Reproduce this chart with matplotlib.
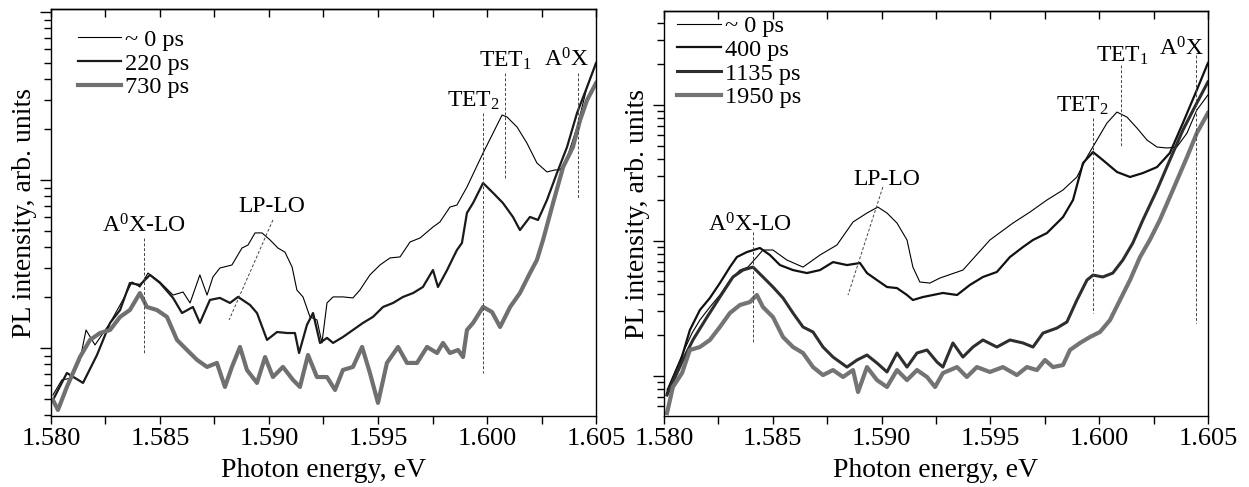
import numpy as np
import matplotlib
matplotlib.use('Agg')
import matplotlib.pyplot as plt
from matplotlib.ticker import MultipleLocator, FormatStrFormatter, LogLocator, NullFormatter

# Time-resolved PL spectra, intensity stored as log10(arb. units)

# ---- left panel ----
e_l0 = [1.58009, 1.58050, 1.58096, 1.58133, 1.58161, 1.58202, 1.58271, 1.58330, 1.58372, 1.58408,
        1.58445, 1.58500, 1.58560, 1.58606, 1.58638, 1.58683, 1.58716, 1.58743, 1.58775, 1.58830,
        1.58876, 1.58904, 1.58936, 1.58968, 1.59005, 1.59041, 1.59073, 1.59106, 1.59128, 1.59156,
        1.59188, 1.59220, 1.59243, 1.59266, 1.59294, 1.59339, 1.59385, 1.59417, 1.59463, 1.59509,
        1.59555, 1.59601, 1.59647, 1.59693, 1.59752, 1.59784, 1.59830, 1.59862, 1.59908, 1.59982,
        1.60028, 1.60069, 1.60092, 1.60138, 1.60183, 1.60229, 1.60275, 1.60312, 1.60335, 1.60367,
        1.60413, 1.60459, 1.60500]
pl_l0 = [-0.280, -0.190, -0.179, -0.071, 0.107, 0.018, 0.149, 0.286, 0.393, 0.363,
         0.446, 0.393, 0.315, 0.333, 0.268, 0.435, 0.315, 0.423, 0.476, 0.494,
         0.595, 0.613, 0.685, 0.685, 0.643, 0.595, 0.571, 0.482, 0.345, 0.304,
         0.185, 0.167, 0.030, 0.268, 0.304, 0.304, 0.298, 0.345, 0.435, 0.494,
         0.536, 0.542, 0.631, 0.655, 0.720, 0.750, 0.839, 0.851, 0.958, 1.161,
         1.280, 1.387, 1.375, 1.315, 1.220, 1.101, 1.048, 1.060, 1.060, 1.131,
         1.315, 1.554, 1.696]

e_l220 = [1.58009, 1.58073, 1.58147, 1.58211, 1.58271, 1.58317, 1.58362, 1.58408, 1.58454, 1.58500,
          1.58560, 1.58601, 1.58651, 1.58683, 1.58729, 1.58775, 1.58821, 1.58858, 1.58913, 1.58945,
          1.58991, 1.59037, 1.59083, 1.59119, 1.59138, 1.59174, 1.59202, 1.59234, 1.59266, 1.59294,
          1.59339, 1.59385, 1.59431, 1.59477, 1.59523, 1.59569, 1.59615, 1.59661, 1.59706, 1.59752,
          1.59775, 1.59817, 1.59844, 1.59862, 1.59885, 1.59908, 1.59936, 1.59982, 1.60028, 1.60073,
          1.60119, 1.60151, 1.60197, 1.60234, 1.60275, 1.60321, 1.60367, 1.60413, 1.60459, 1.60500]
pl_l220 = [-0.310, -0.149, -0.208, -0.042, 0.149, 0.226, 0.387, 0.375, 0.435, 0.387,
           0.298, 0.208, 0.244, 0.149, 0.286, 0.298, 0.268, 0.304, 0.256, 0.208,
           0.048, 0.095, 0.089, 0.089, -0.030, 0.137, 0.208, 0.030, 0.060, 0.030,
           0.065, 0.107, 0.149, 0.185, 0.244, 0.268, 0.304, 0.327, 0.363, 0.464,
           0.363, 0.464, 0.536, 0.583, 0.625, 0.804, 0.863, 0.982, 0.923, 0.863,
           0.780, 0.702, 0.780, 0.762, 0.881, 1.042, 1.196, 1.399, 1.554, 1.696]

e_l730 = [1.58009, 1.58032, 1.58073, 1.58133, 1.58179, 1.58225, 1.58271, 1.58317, 1.58362, 1.58408,
          1.58440, 1.58486, 1.58532, 1.58578, 1.58624, 1.58670, 1.58716, 1.58761, 1.58798, 1.58830,
          1.58867, 1.58899, 1.58945, 1.58982, 1.59018, 1.59064, 1.59110, 1.59142, 1.59179, 1.59220,
          1.59266, 1.59303, 1.59339, 1.59385, 1.59427, 1.59463, 1.59500, 1.59541, 1.59592, 1.59633,
          1.59679, 1.59725, 1.59771, 1.59798, 1.59830, 1.59867, 1.59890, 1.59908, 1.59936, 1.59982,
          1.60023, 1.60060, 1.60106, 1.60151, 1.60197, 1.60229, 1.60257, 1.60303, 1.60349, 1.60394,
          1.60427, 1.60459, 1.60500]
pl_l730 = [-0.310, -0.369, -0.232, -0.054, 0.048, 0.089, 0.107, 0.185, 0.226, 0.327,
           0.244, 0.226, 0.185, 0.048, -0.012, -0.071, -0.113, -0.089, -0.232, -0.113,
           0.006, -0.131, -0.208, -0.054, -0.173, -0.113, -0.190, -0.232, -0.042, -0.173,
           -0.173, -0.250, -0.131, -0.113, 0.006, -0.149, -0.327, -0.089, 0.006, -0.089,
           -0.089, 0.006, -0.030, 0.030, -0.030, -0.012, -0.054, 0.107, 0.149, 0.244,
           0.214, 0.125, 0.244, 0.327, 0.446, 0.524, 0.643, 0.863, 1.077, 1.196,
           1.357, 1.476, 1.577]

# ---- right panel ----
e_r0 = [1.58014, 1.58087, 1.58129, 1.58165, 1.58211, 1.58257, 1.58303, 1.58349, 1.58386, 1.58455,
        1.58501, 1.58565, 1.58639, 1.58717, 1.58795, 1.58869, 1.58933, 1.58983, 1.59025, 1.59071,
        1.59117, 1.59144, 1.59176, 1.59222, 1.59268, 1.59374, 1.59498, 1.59604, 1.59682, 1.59760,
        1.59834, 1.59898, 1.59944, 1.59990, 1.60036, 1.60082, 1.60128, 1.60174, 1.60220, 1.60266,
        1.60312, 1.60357, 1.60404, 1.60449, 1.60500]
pl_r0 = [-0.103, 0.170, 0.317, 0.413, 0.509, 0.598, 0.708, 0.782, 0.804, 0.930,
         0.930, 0.856, 0.804, 0.893, 0.967, 1.137, 1.203, 1.247, 1.203, 1.129,
         1.004, 0.804, 0.694, 0.686, 0.723, 0.782, 1.004, 1.129, 1.210, 1.299,
         1.373, 1.469, 1.616, 1.742, 1.867, 1.948, 1.911, 1.830, 1.742, 1.690,
         1.683, 1.690, 1.793, 1.963, 2.074]

e_r400 = [1.58014, 1.58074, 1.58119, 1.58165, 1.58211, 1.58257, 1.58303, 1.58335, 1.58381, 1.58441,
          1.58487, 1.58533, 1.58593, 1.58657, 1.58717, 1.58777, 1.58841, 1.58901, 1.58933, 1.58979,
          1.59025, 1.59071, 1.59117, 1.59144, 1.59190, 1.59236, 1.59282, 1.59347, 1.59406, 1.59466,
          1.59530, 1.59590, 1.59650, 1.59696, 1.59760, 1.59834, 1.59880, 1.59926, 1.59972, 1.60017,
          1.60082, 1.60142, 1.60201, 1.60266, 1.60325, 1.60385, 1.60449, 1.60500]
pl_r400 = [-0.125, 0.096, 0.339, 0.487, 0.576, 0.686, 0.804, 0.878, 0.915, 0.945,
           0.893, 0.819, 0.782, 0.760, 0.782, 0.841, 0.819, 0.834, 0.760, 0.708,
           0.657, 0.649, 0.598, 0.561, 0.583, 0.598, 0.613, 0.598, 0.672, 0.731,
           0.768, 0.878, 0.952, 1.004, 1.055, 1.173, 1.299, 1.572, 1.653, 1.594,
           1.506, 1.469, 1.498, 1.542, 1.646, 1.867, 2.111, 2.310]

e_r1135 = [1.58014, 1.58087, 1.58133, 1.58198, 1.58257, 1.58317, 1.58363, 1.58409, 1.58455, 1.58501,
           1.58547, 1.58593, 1.58639, 1.58685, 1.58731, 1.58777, 1.58841, 1.58887, 1.58933, 1.58979,
           1.59025, 1.59071, 1.59117, 1.59163, 1.59209, 1.59255, 1.59282, 1.59328, 1.59374, 1.59420,
           1.59466, 1.59530, 1.59590, 1.59650, 1.59696, 1.59742, 1.59806, 1.59852, 1.59898, 1.59944,
           1.59972, 1.60017, 1.60063, 1.60109, 1.60155, 1.60201, 1.60266, 1.60325, 1.60385, 1.60449,
           1.60500]
pl_r1135 = [-0.140, 0.118, 0.266, 0.435, 0.583, 0.731, 0.782, 0.804, 0.731, 0.657,
            0.576, 0.465, 0.362, 0.325, 0.214, 0.140, 0.066, 0.118, 0.155, 0.096,
            0.030, 0.170, 0.066, 0.170, 0.192, 0.103, 0.066, 0.244, 0.140, 0.214,
            0.266, 0.214, 0.266, 0.244, 0.214, 0.317, 0.354, 0.399, 0.561, 0.708,
            0.745, 0.731, 0.760, 0.856, 0.982, 1.151, 1.373, 1.594, 1.815, 2.015,
            2.170]

e_r1950 = [1.58014, 1.58041, 1.58083, 1.58119, 1.58165, 1.58211, 1.58257, 1.58303, 1.58349, 1.58395,
           1.58427, 1.58455, 1.58501, 1.58547, 1.58593, 1.58639, 1.58685, 1.58731, 1.58777, 1.58823,
           1.58869, 1.58892, 1.58933, 1.58979, 1.59025, 1.59071, 1.59117, 1.59163, 1.59209, 1.59246,
           1.59282, 1.59347, 1.59392, 1.59438, 1.59498, 1.59558, 1.59622, 1.59668, 1.59714, 1.59751,
           1.59788, 1.59834, 1.59866, 1.59912, 1.59958, 1.60004, 1.60050, 1.60096, 1.60142, 1.60188,
           1.60233, 1.60279, 1.60339, 1.60404, 1.60449, 1.60500]
pl_r1950 = [-0.273, -0.081, 0.022, 0.192, 0.214, 0.266, 0.362, 0.465, 0.524, 0.546,
            0.598, 0.509, 0.435, 0.288, 0.214, 0.170, 0.066, 0.007, 0.044, -0.007,
            0.044, -0.118, 0.066, -0.030, -0.081, 0.044, -0.030, 0.044, -0.007, -0.081,
            0.022, 0.066, -0.007, 0.066, 0.030, 0.066, 0.007, 0.066, 0.044, 0.118,
            0.066, 0.081, 0.192, 0.244, 0.288, 0.325, 0.413, 0.561, 0.708, 0.878,
            1.004, 1.151, 1.373, 1.616, 1.793, 1.941]

# annotation marks: (label, text x, text y(log), line x0, y0(log), x1, y1(log))
marks_left = [
    (r'A$\mathregular{^0}$X-LO', 1.58427, 0.66, 1.58427, 0.655, 1.58427, -0.030),
    ('LP-LO', 1.59014, 0.78, 1.59018, 0.762, 1.58817, 0.167),
    (r'TET$\mathregular{_2}$', 1.59940, 1.405, 1.59982, 1.399, 1.59982, -0.149),
    (r'TET$\mathregular{_1}$', 1.60083, 1.643, 1.60083, 1.637, 1.60083, 1.000),
    (r'A$\mathregular{^0}$X', 1.60362, 1.643, 1.60417, 1.637, 1.60417, 0.893),
]
marks_right = [
    (r'A$\mathregular{^0}$X-LO', 1.58395, 1.03, 1.58409, 1.063, 1.58409, 0.244),
    ('LP-LO', 1.59025, 1.37, 1.59006, 1.395, 1.58846, 0.598),
    (r'TET$\mathregular{_2}$', 1.59921, 1.911, 1.59972, 1.904, 1.59972, 0.465),
    (r'TET$\mathregular{_1}$', 1.60105, 2.28, 1.60100, 2.295, 1.60100, 1.690),
    (r'A$\mathregular{^0}$X', 1.60380, 2.33, 1.60445, 2.369, 1.60445, 0.391),
]

plt.rcParams['font.family'] = ['Liberation Serif', 'DejaVu Serif']
plt.rcParams['mathtext.fontset'] = 'custom'
plt.rcParams['mathtext.rm'] = 'Liberation Serif'

fig = plt.figure(figsize=(12.49, 4.87), dpi=100)
ax1 = fig.add_axes([0.0408, 0.1458, 0.4364, 0.8357])
ax2 = fig.add_axes([0.5316, 0.1458, 0.4355, 0.8316])


def style_axis(ax, ylog_lim):
    ax.set_yscale('log')
    ax.set_xlim(1.580, 1.605)
    ax.set_ylim(10 ** ylog_lim[0], 10 ** ylog_lim[1])
    ax.xaxis.set_major_locator(MultipleLocator(0.005))
    ax.xaxis.set_minor_locator(MultipleLocator(0.0025))
    ax.xaxis.set_major_formatter(FormatStrFormatter('%.3f'))
    ax.yaxis.set_major_locator(LogLocator(base=10))
    ax.yaxis.set_minor_locator(LogLocator(base=10, subs=np.arange(2, 10)))
    ax.yaxis.set_major_formatter(NullFormatter())
    ax.yaxis.set_minor_formatter(NullFormatter())
    ax.tick_params(axis='x', which='both', direction='out', length=6, width=1,
                   labelsize=19, pad=3)
    ax.tick_params(axis='y', which='major', direction='out', length=8, width=1)
    ax.tick_params(axis='y', which='minor', direction='out', length=5, width=1)
    for s in ax.spines.values():
        s.set_linewidth(1.0)
    top = ax.secondary_xaxis('top')
    top.xaxis.set_major_locator(MultipleLocator(0.0025))
    top.tick_params(direction='in', length=6, width=1, labeltop=False)
    top.spines['top'].set_linewidth(1.0)
    ax.set_xlabel('Photon energy, eV', fontsize=20, labelpad=5.5)
    ax.set_ylabel('PL intensity, arb. units', fontsize=20, labelpad=-1.5)


def add_marks(ax, marks):
    for lab, tx, ty, x0, y0, x1, y1 in marks:
        ax.plot([x0, x1], [10 ** y0, 10 ** y1], ls=(0, (3, 2)), lw=0.7, color='#444444')
        ax.text(tx, 10 ** ty, lab, fontsize=17, ha='center', va='bottom')


p = lambda v: np.power(10.0, np.array(v))

ax1.plot(e_l0, p(pl_l0), color='black', lw=0.8, label='~ 0 ps')
ax1.plot(e_l220, p(pl_l220), color='#1a1a1a', lw=1.6, label='220 ps')
ax1.plot(e_l730, p(pl_l730), color='#707070', lw=3.0, label='730 ps')
style_axis(ax1, (-0.405, 2.018))
add_marks(ax1, marks_left)
ax1.legend(loc='upper left', bbox_to_anchor=(0.049, 0.951), frameon=False, fontsize=17.5,
           handlelength=1.8, handletextpad=0.16, labelspacing=0.07, borderpad=0, borderaxespad=0)

ax2.plot(e_r0, p(pl_r0), color='black', lw=0.8, label='~ 0 ps')
ax2.plot(e_r400, p(pl_r400), color='#111111', lw=1.6, label='400 ps')
ax2.plot(e_r1135, p(pl_r1135), color='#2e2e2e', lw=2.2, label='1135 ps')
ax2.plot(e_r1950, p(pl_r1950), color='#747474', lw=3.0, label='1950 ps')
style_axis(ax2, (-0.295, 2.694))
add_marks(ax2, marks_right)
ax2.legend(loc='upper left', bbox_to_anchor=(0.024, 0.99), frameon=False, fontsize=17.5,
           handlelength=1.8, handletextpad=0.16, labelspacing=0.07, borderpad=0, borderaxespad=0)

fig.savefig('out.png', dpi=100)
